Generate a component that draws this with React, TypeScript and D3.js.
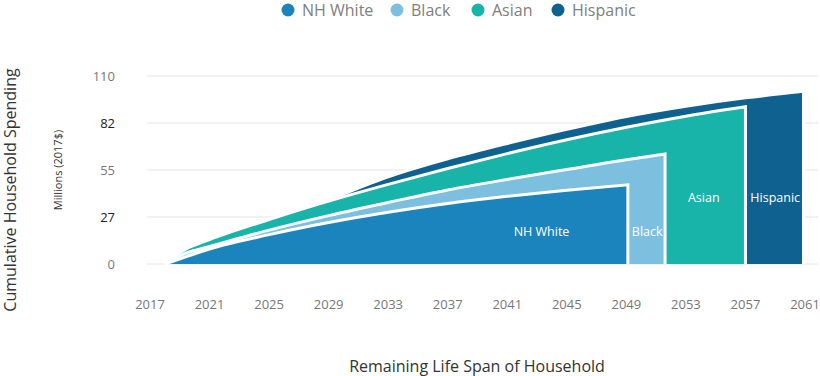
import React from "react";
import * as d3 from "d3";

const seriesNames = ["NH White", "Black", "Asian", "Hispanic"];
const seriesColors = ["#1c84bc", "#7dbfdf", "#18b3a9", "#0f628f"];

const nhWhite: [number, number][] = [
  [2018, 0], [2019.5, 4.5], [2021, 8.8], [2025, 17.2], [2029, 24.3], [2033, 30.3],
  [2037, 35.4], [2041, 39.6], [2045, 43.2], [2049.1, 46.3],
];
const black: [number, number][] = [
  [2018, 0], [2019.5, 6.6], [2021, 10.2], [2025, 19.8], [2029, 28.3], [2033, 36],
  [2037, 43.3], [2041, 49.5], [2045, 55.3], [2049, 61], [2051.6, 64.3],
];
const asian: [number, number][] = [
  [2018, 0], [2019.4, 8.7], [2021, 14.3], [2025, 26], [2029, 36.8], [2033, 46.6],
  [2037, 55.9], [2041, 64.6], [2045, 72.7], [2049, 80], [2053, 86.5], [2057, 92],
];
const hispanic: [number, number][] = [
  [2018, 0], [2021, 10.5], [2025, 23.8], [2029, 37.5], [2033, 51], [2037, 61.5],
  [2041, 70.5], [2045, 78.8], [2049, 86.3], [2053, 92.3], [2057, 97.2], [2060.9, 101],
];

const xTicks = [2017, 2021, 2025, 2029, 2033, 2037, 2041, 2045, 2049, 2053, 2057, 2061];
const yTicks = [0, 27.5, 55, 82.5, 110];
const yTickLabels = ["0", "27", "55", "82", "110"];
const yTickColors = ["#777", "#222", "#777", "#222", "#777"];

// label anchor positions in data coords [year, value]
const areaLabels: { text: string; pos: [number, number] }[] = [
  { text: "NH White", pos: [2043.3, 16.1] },
  { text: "Black", pos: [2050.4, 16.1] },
  { text: "Asian", pos: [2054.2, 36] },
  { text: "Hispanic", pos: [2059.0, 36] },
];

const W = 820;
const H = 376;
const FONT = "'Open Sans', 'Noto Sans', sans-serif";

export default function App() {
  const x = d3.scaleLinear().domain([2017, 2061]).range([150, 805]);
  const y = d3.scaleLinear().domain([0, 110]).range([264, 76]);

  const area = d3
    .area<[number, number]>()
    .x((d) => x(d[0]))
    .y0(y(0))
    .y1((d) => y(d[1]))
    .curve(d3.curveMonotoneX);
  const line = d3
    .line<[number, number]>()
    .x((d) => x(d[0]))
    .y((d) => y(d[1]))
    .curve(d3.curveMonotoneX);

  const data = [nhWhite, black, asian, hispanic];
  const order = [3, 2, 1, 0];

  const legendX = [288, 397, 478, 558];

  return (
    <svg
      width={W}
      height={H}
      style={{ position: "absolute", left: 0, top: 0, background: "#fff" }}
      fontFamily={FONT}
    >
      {/* legend */}
      {seriesNames.map((n, i) => (
        <g key={n}>
          <circle cx={legendX[i]} cy={10} r={6.5} fill={seriesColors[i]} />
          <text x={legendX[i] + 14} y={15.5} fontSize={16} fill="#808080">
            {n}
          </text>
        </g>
      ))}

      {/* gridlines */}
      {yTicks.map((t, i) => (
        <g key={t}>
          <line x1={147} x2={818} y1={y(t)} y2={y(t)} stroke="#e4e4e4" strokeWidth={1} />
          <text
            x={115}
            y={y(t) + 4.5}
            textAnchor="end"
            fontSize={13}
            fill={yTickColors[i]}
          >
            {yTickLabels[i]}
          </text>
        </g>
      ))}

      {/* areas */}
      {order.map((i) => {
        const d = data[i];
        const last = d[d.length - 1];
        const strokePath = (line(d) as string) + `L${x(last[0])},${y(0)}`;
        return (
          <g key={i}>
            <path d={area(d) as string} fill={seriesColors[i]} />
            <path d={strokePath} fill="none" stroke="#fff" strokeWidth={3} strokeLinejoin="miter" />
          </g>
        );
      })}

      {/* area labels */}
      {areaLabels.map((l) => (
        <text
          key={l.text}
          x={x(l.pos[0])}
          y={y(l.pos[1])}
          textAnchor="middle"
          fontSize={12.5}
          fill="#fff"
        >
          {l.text}
        </text>
      ))}

      {/* x ticks */}
      {xTicks.map((t) => (
        <text key={t} x={x(t)} y={309} textAnchor="middle" fontSize={13} fill="#777">
          {t}
        </text>
      ))}

      {/* axis titles */}
      <text
        transform={`translate(16,190) rotate(-90)`}
        textAnchor="middle"
        fontSize={16}
        fill="#333"
      >
        Cumulative Household Spending
      </text>
      <text
        transform={`translate(62,170) rotate(-90)`}
        textAnchor="middle"
        fontSize={11}
        fill="#333"
      >
        Millions (2017$)
      </text>
      <text x={477} y={372} textAnchor="middle" fontSize={16} fill="#333">
        Remaining Life Span of Household
      </text>
    </svg>
  );
}
